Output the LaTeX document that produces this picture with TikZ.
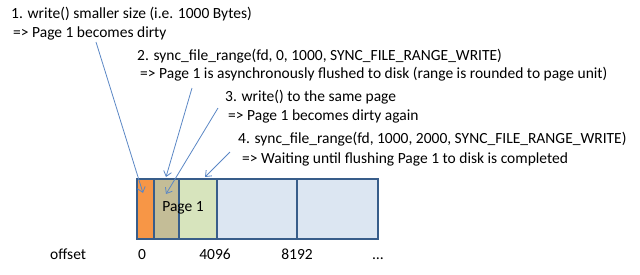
\documentclass[tikz,border=0pt]{standalone}
\usepackage{fontspec}
\setmainfont{Carlito}
\usepackage{tikz}
\usetikzlibrary{arrows.meta,positioning,calc}
\definecolor{pgorange}{HTML}{F79646}
\definecolor{pgtan}{HTML}{C4BD97}
\definecolor{pggreen}{HTML}{D7E4BD}
\definecolor{pgblue}{HTML}{DCE6F2}
\definecolor{pgborder}{HTML}{385D8A}
\definecolor{pgarrow}{HTML}{5B87C5}
\tikzset{
  cell/.style={
    shape = rectangle,
    draw = pgborder,
    line width = 1.6pt,
    minimum height = 60pt,
    inner sep = 0pt,
    anchor = north west
  },
  note/.style={
    anchor = west,
    inner sep = 0pt,
    text height = 10.5pt,
    text depth = 3.5pt,
    font = \fontsize{15.5}{18}\selectfont
  },
  pointer/.style={
    draw = pgarrow,
    line width = 0.8pt,
    -{Straight Barb[length=5pt,width=8pt]}
  },
}

\begin{document}
\begin{tikzpicture}[x=1pt,y=-1pt]
    \useasboundingbox (0,0) rectangle (640,274);
    \def\rowy{178}
    \def\laby{256}
    % the page cells
    \foreach \nm/\xa/\w/\col in {c0/136/17/pgorange, c1/153/25/pgtan, c2/178/38/pggreen, c3/216/80/pgblue, c4/296/81/pgblue}{
    \node[cell, fill=\col, minimum width=\w pt] (\nm) at (\xa,\rowy) {};}
    \node[note, anchor=center] (pg) at (183,208) {Page 1};
    % offsets
    \node[note] (off) at (50,\laby) {offset};
    \foreach \nm/\xa/\t in {o0/142/0, o1/215/4096, o2/297/8192}{
    \node[note, anchor=center] (\nm) at (\xa,\laby) {\t};}
    \node[note, anchor=center] (o3) at (378,\laby) {\dots};
    % the steps
    \node[note] (t1a) at (11,15) {1. write() smaller size (i.e. 1000 Bytes)};
    \node[note] (t1b) at (13,34) {=> Page 1 becomes dirty};
    \node[note] (t2a) at (137,57) {2. sync\_file\_range(fd, 0, 1000, SYNC\_FILE\_RANGE\_WRITE)};
    \node[note] (t2b) at (140,75) {=> Page 1 is asynchronously flushed to disk (range is rounded to page unit)};
    \node[note] (t3a) at (225,98) {3. write() to the same page};
    \node[note] (t3b) at (228,117) {=> Page 1 becomes dirty again};
    \node[note] (t4a) at (238,140) {4. sync\_file\_range(fd, 1000, 2000, SYNC\_FILE\_RANGE\_WRITE)};
    \node[note] (t4b) at (242,160) {=> Waiting until flushing Page 1 to disk is completed};
    % arrows
    \coordinate (a1s) at (96,42);
    \coordinate (a1e) at (143,193);
    \coordinate (a2s) at (192,88);
    \coordinate (a2e) at (166,177);
    \coordinate (a3s) at (218,108);
    \coordinate (a3e) at (166,194);
    \coordinate (a4s) at (230,152);
    \coordinate (a4e) at (205,177);
    \foreach \i in {1,2,3,4}{
    \draw[pointer] (a\i s) -- (a\i e);}
\end{tikzpicture}
\end{document}
